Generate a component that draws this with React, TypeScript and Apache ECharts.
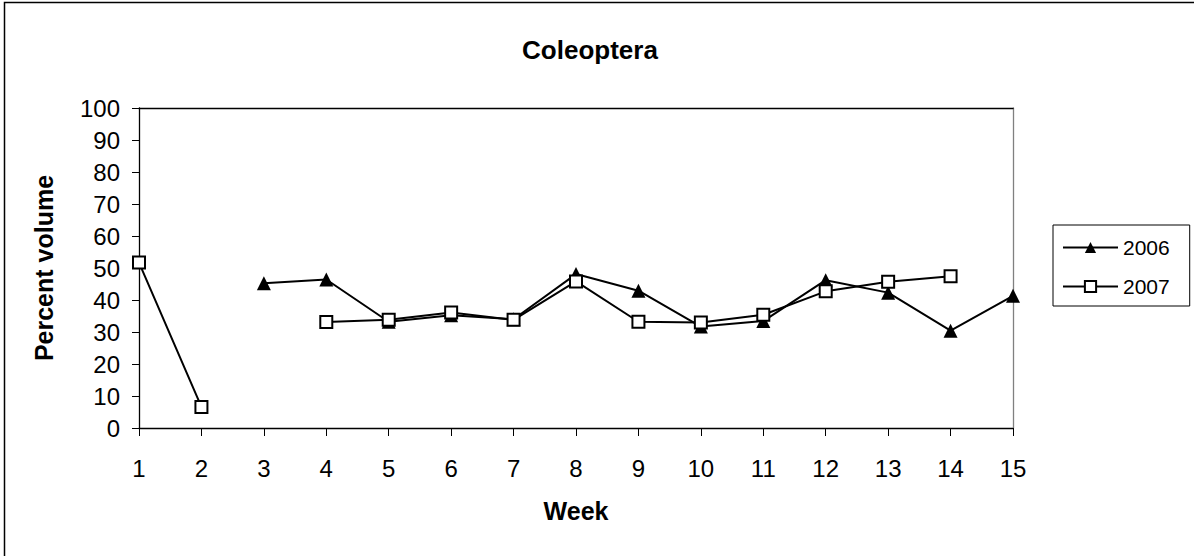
import React, { useEffect, useRef } from "react";
import * as echarts from "echarts";

const weeks = ["1", "2", "3", "4", "5", "6", "7", "8", "9", "10", "11", "12", "13", "14", "15"];
const series2006 = [null, null, 45.2, 46.4, 33.2, 35.2, 34, 48.1, 42.9, 31.7, 33.4, 46.2, 42.3, 30.4, 41.3];
const series2007 = [51.7, 6.6, null, 33.1, 33.8, 36.1, 33.8, 45.8, 33.2, 33.0, 35.4, 42.7, 45.7, 47.4, null];
const yTicks = { min: 0, max: 100, interval: 10 };

const FONT = "'Liberation Sans', Arial, Helvetica, sans-serif";

export default function App() {
  const ref = useRef<HTMLDivElement>(null);
  useEffect(() => {
    if (!ref.current) return;
    const chart = echarts.init(ref.current, null, { renderer: "svg" });
    chart.setOption({
      animation: false,
      backgroundColor: "#fff",
      textStyle: { fontFamily: FONT, color: "#000" },
      title: {
        text: "Coleoptera",
        left: 585,
        textAlign: "center",
        top: 32,
        textStyle: { fontFamily: FONT, fontSize: 26, fontWeight: "bold", color: "#000" },
      },
      legend: {
        orient: "vertical",
        left: 1053,
        top: 225,
        padding: [12, 20, 9, 9],
        itemGap: 18,
        itemWidth: 55,
        itemHeight: 14,
        borderColor: "#000",
        borderWidth: 1,
        textStyle: { fontFamily: FONT, fontSize: 21, color: "#000" },
        data: ["2006", "2007"],
      },
      grid: { left: 139, right: 181, top: 108, bottom: 128, containLabel: false },
      xAxis: [
        {
          type: "category",
          data: weeks,
          boundaryGap: false,
          name: "Week",
          nameLocation: "middle",
          nameGap: 70,
          nameTextStyle: { fontFamily: FONT, fontSize: 25, fontWeight: "bold", color: "#000" },
          axisLine: { lineStyle: { color: "#000", width: 1.3 } },
          axisTick: { length: 8, lineStyle: { color: "#000" } },
          axisLabel: { margin: 28, fontFamily: FONT, fontSize: 24, color: "#000" },
          splitLine: { show: false },
        },
        {
          type: "category",
          data: weeks,
          boundaryGap: false,
          position: "top",
          axisLine: { onZero: false, lineStyle: { color: "#000", width: 1.3 } },
          axisTick: { show: false },
          axisLabel: { show: false },
          splitLine: { show: false },
        },
      ],
      yAxis: [
        {
          type: "value",
          min: yTicks.min,
          max: yTicks.max,
          interval: yTicks.interval,
          name: "Percent volume",
          nameLocation: "middle",
          nameGap: 83,
          nameTextStyle: { fontFamily: FONT, fontSize: 25, fontWeight: "bold", color: "#000" },
          axisLine: { show: true, lineStyle: { color: "#000", width: 1.3 } },
          axisTick: { show: true, length: 7, lineStyle: { color: "#000" } },
          axisLabel: { margin: 19, fontFamily: FONT, fontSize: 24, color: "#000" },
          splitLine: { show: false },
        },
        {
          type: "value",
          min: yTicks.min,
          max: yTicks.max,
          interval: yTicks.interval,
          position: "right",
          axisLine: { show: true, onZero: false, lineStyle: { color: "#808080", width: 1.3 } },
          axisTick: { show: false },
          axisLabel: { show: false },
          splitLine: { show: false },
        },
      ],
      graphic: [
        {
          type: "rect",
          shape: { x: 4.5, y: 2.5, width: 1400, height: 800 },
          style: { fill: "none", stroke: "#000", lineWidth: 1.5 },
          silent: true,
        },
      ],
      series: [
        {
          name: "2006",
          type: "line",
          data: series2006,
          connectNulls: false,
          symbol: "triangle",
          symbolSize: 14,
          itemStyle: { color: "#000", borderColor: "#000", borderWidth: 0 },
          lineStyle: { color: "#000", width: 2 },
          z: 2,
        },
        {
          name: "2007",
          type: "line",
          data: series2007,
          connectNulls: false,
          symbol: "rect",
          symbolSize: 12,
          itemStyle: { color: "#fff", borderColor: "#000", borderWidth: 2 },
          lineStyle: { color: "#000", width: 2 },
          z: 3,
        },
      ],
    });
    return () => chart.dispose();
  }, []);
  return (
    <div
      ref={ref}
      style={{ position: "fixed", left: 0, top: 0, width: 1194, height: 556 }}
    />
  );
}
